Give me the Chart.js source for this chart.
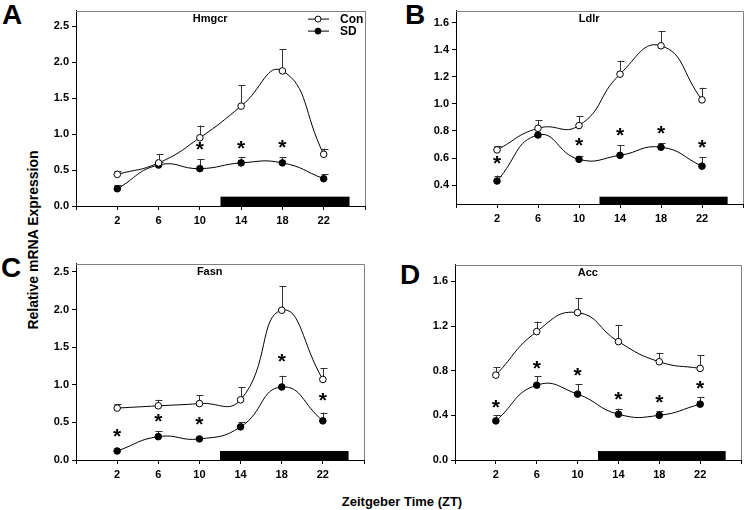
<!DOCTYPE html>
<html>
<head>
<meta charset="utf-8">
<script src="https://cdn.jsdelivr.net/npm/chart.js@4.4.0/dist/chart.umd.min.js"></script>
<style>
  html, body { margin: 0; padding: 0; background: #fff; }
  body { width: 747px; height: 510px; position: relative; overflow: hidden;
         font-family: Arial, "Liberation Sans", sans-serif; color: #000; }
  canvas { position: absolute; }
  .letter { position: absolute; font-weight: bold; font-size: 28px; line-height: 1; }
  .axis-label { position: absolute; font-weight: bold; white-space: nowrap; line-height: 1; }
</style>
</head>
<body>
<div class="letter" style="left:2px;top:1px">A</div>
<div class="letter" style="left:405px;top:1px">B</div>
<div class="letter" style="left:1px;top:254px">C</div>
<div class="letter" style="left:400px;top:261px">D</div>
<div class="axis-label" style="left:33px;top:240px;font-size:14px;transform:translate(-50%,-50%) rotate(-90deg)">Relative mRNA Expression</div>
<div class="axis-label" style="left:402px;top:501px;font-size:13px;transform:translate(-50%,-50%)">Zeitgeber Time (ZT)</div>

<canvas id="hmgcr"></canvas>
<canvas id="ldlr"></canvas>
<canvas id="fasn"></canvas>
<canvas id="acc"></canvas>

<script>
// sampling times and axis ticks
const zt = [2, 6, 10, 14, 18, 22];
const xTicks = [-2, 2, 6, 10, 14, 18, 22, 26];
const darkPhase = [12, 24.5];

// A - Hmgcr
const hmgcrCon    = [0.44, 0.60, 0.95, 1.39, 1.88, 0.72];
const hmgcrConSem = [0.05, 0.12, 0.17, 0.29, 0.30, 0.08];
const hmgcrSd     = [0.24, 0.57, 0.52, 0.60, 0.60, 0.38];
const hmgcrSdSem  = [0.05, 0.04, 0.13, 0.08, 0.08, 0.06];
const hmgcrStars  = [null, null, 0.86, 0.88, 0.89, null];
const hmgcrTicks  = [0, 0.5, 1.0, 1.5, 2.0, 2.5];

// B - Ldlr
const ldlrCon    = [0.66, 0.82, 0.84, 1.22, 1.43, 1.03];
const ldlrConSem = [0.03, 0.06, 0.07, 0.10, 0.11, 0.09];
const ldlrSd     = [0.43, 0.77, 0.59, 0.62, 0.68, 0.54];
const ldlrSdSem  = [0.04, 0.01, 0.025, 0.075, 0.03, 0.065];
const ldlrStars  = [0.60, null, 0.73, 0.81, 0.82, 0.72];
const ldlrTicks  = [0.4, 0.6, 0.8, 1.0, 1.2, 1.4, 1.6];

// C - Fasn
const fasnCon    = [0.69, 0.72, 0.75, 0.80, 1.99, 1.07];
const fasnConSem = [0.05, 0.08, 0.11, 0.17, 0.32, 0.15];
const fasnSd     = [0.12, 0.31, 0.28, 0.44, 0.97, 0.52];
const fasnSdSem  = [0.03, 0.07, 0.01, 0.06, 0.15, 0.11];
const fasnStars  = [0.38, 0.59, 0.54, null, 1.38, 0.86];
const fasnTicks  = [0, 0.5, 1.0, 1.5, 2.0, 2.5];

// D - Acc
const accCon    = [0.76, 1.15, 1.32, 1.06, 0.88, 0.82];
const accConSem = [0.07, 0.09, 0.13, 0.15, 0.08, 0.12];
const accSd     = [0.35, 0.67, 0.59, 0.41, 0.40, 0.50];
const accSdSem  = [0.05, 0.08, 0.09, 0.05, 0.04, 0.06];
const accStars  = [0.52, 0.87, 0.81, 0.59, 0.56, 0.69];
const accTicks  = [0, 0.4, 0.8, 1.2, 1.6];

const FONT = 'Arial, "Liberation Sans", sans-serif';

// panel layout: chart area box in page pixels [left, top, right, bottom]
const panels = [
  { id: 'hmgcr', title: 'Hmgcr', box: [76, 4, 367, 206], yMin: 0, yMax: 2.72, yTicks: hmgcrTicks, barTop: 0.13,
    con: hmgcrCon, conSem: hmgcrConSem, sd: hmgcrSd, sdSem: hmgcrSdSem, stars: hmgcrStars, legend: true },
  { id: 'ldlr', title: 'Ldlr', box: [456, 4, 745, 204], yMin: 0.26, yMax: 1.69, yTicks: ldlrTicks, barTop: 0.314,
    con: ldlrCon, conSem: ldlrConSem, sd: ldlrSd, sdSem: ldlrSdSem, stars: ldlrStars },
  { id: 'fasn', title: 'Fasn', box: [76, 257, 366, 460], yMin: 0, yMax: 2.61, yTicks: fasnTicks, barTop: 0.12,
    con: fasnCon, conSem: fasnConSem, sd: fasnSd, sdSem: fasnSdSem, stars: fasnStars },
  { id: 'acc', title: 'Acc', box: [455, 258, 743, 460], yMin: 0, yMax: 1.75, yTicks: accTicks, barTop: 0.08,
    con: accCon, conSem: accConSem, sd: accSd, sdSem: accSdSem, stars: accStars }
];

const Y_W = 40, X_H = 26, PAD = 3;

// dark phase bar, error bars, asterisks, title, legend, grey frame
const decor = {
  id: 'decor',
  beforeDatasetsDraw(chart, args, o) {
    const { ctx, chartArea: a, scales: { x, y } } = chart;
    ctx.save();
    ctx.fillStyle = '#000';
    const x0 = x.getPixelForValue(darkPhase[0]);
    const x1 = x.getPixelForValue(darkPhase[1]);
    const yb = y.getPixelForValue(o.barTop);
    ctx.fillRect(x0, yb, x1 - x0, a.bottom - yb);

    ctx.strokeStyle = '#333';
    ctx.lineWidth = 1;
    chart.data.datasets.forEach(ds => {
      ds.data.forEach((p, i) => {
        const px = Math.round(x.getPixelForValue(p.x)) + 0.5;
        const py = y.getPixelForValue(p.y);
        const pt = y.getPixelForValue(p.y + ds.sem[i]);
        ctx.beginPath();
        ctx.moveTo(px, py);
        ctx.lineTo(px, pt);
        ctx.moveTo(px - 3, Math.round(pt) + 0.5);
        ctx.lineTo(px + 4, Math.round(pt) + 0.5);
        ctx.stroke();
      });
    });
    ctx.restore();
  },
  afterDatasetsDraw(chart, args, o) {
    const { ctx, chartArea: a, scales: { x, y } } = chart;
    ctx.save();
    // significance asterisks
    ctx.fillStyle = '#000';
    ctx.textAlign = 'center';
    ctx.textBaseline = 'alphabetic';
    ctx.font = 'bold 21px ' + FONT;
    o.stars.forEach((v, i) => {
      if (v === null) return;
      ctx.fillText('*', x.getPixelForValue(zt[i]), y.getPixelForValue(v) + 12);
    });
    // gene title
    ctx.font = 'bold 11px ' + FONT;
    ctx.textBaseline = 'middle';
    ctx.fillText(o.title, x.getPixelForValue(11), a.top + 8);
    // legend
    if (o.legend) {
      const rows = [['Con', '#fff', a.top + 8], ['SD', '#000', a.top + 20]];
      rows.forEach(([label, fill, ly]) => {
        ctx.strokeStyle = '#000';
        ctx.lineWidth = 1;
        ctx.beginPath();
        ctx.moveTo(a.right - 57, ly + 0.5);
        ctx.lineTo(a.right - 36, ly + 0.5);
        ctx.stroke();
        ctx.beginPath();
        ctx.arc(a.right - 47, ly + 0.5, 3, 0, Math.PI * 2);
        ctx.fillStyle = fill;
        ctx.fill();
        ctx.stroke();
        ctx.fillStyle = '#000';
        ctx.textAlign = 'left';
        ctx.font = 'bold 12px ' + FONT;
        ctx.fillText(label, a.right - 25, ly + 1);
      });
    }
    // grey top and right frame
    ctx.strokeStyle = '#808080';
    ctx.lineWidth = 1;
    ctx.beginPath();
    ctx.moveTo(a.left, Math.round(a.top) + 0.5);
    ctx.lineTo(Math.round(a.right) + 0.5, Math.round(a.top) + 0.5);
    ctx.lineTo(Math.round(a.right) + 0.5, a.bottom);
    ctx.stroke();
    ctx.restore();
  }
};

function seriesStyle(label, values, sem, fill) {
  return {
    label: label,
    data: zt.map((t, i) => ({ x: t, y: values[i] })),
    sem: sem,
    borderColor: '#000',
    borderWidth: 1,
    tension: 0.5,
    pointRadius: 3.3,
    pointBorderWidth: 1,
    pointBackgroundColor: fill,
    pointBorderColor: '#000'
  };
}

panels.forEach(p => {
  const [L, T, R, B] = p.box;
  const canvas = document.getElementById(p.id);
  canvas.width = R - L + Y_W + PAD;
  canvas.height = B - T + PAD + X_H;
  canvas.style.left = (L - Y_W) + 'px';
  canvas.style.top = (T - PAD) + 'px';

  new Chart(canvas.getContext('2d'), {
    type: 'line',
    data: {
      datasets: [
        seriesStyle('Con', p.con, p.conSem, '#fff'),
        seriesStyle('SD', p.sd, p.sdSem, '#000')
      ]
    },
    options: {
      responsive: false,
      animation: false,
      events: [],
      layout: { padding: { left: 0, top: PAD, right: PAD, bottom: 0 } },
      scales: {
        x: {
          type: 'linear', min: -2, max: 26,
          afterBuildTicks: s => { s.ticks = xTicks.map(v => ({ value: v })); },
          afterFit: s => { s.height = X_H; },
          ticks: {
            autoSkip: false, maxRotation: 0, padding: 4, color: '#000',
            font: { family: FONT, size: 11, weight: 'bold' },
            callback: v => zt.includes(v) ? String(v) : ''
          },
          grid: { drawOnChartArea: false, drawTicks: true, tickLength: 4, color: '#000' },
          border: { color: '#000', width: 1 }
        },
        y: {
          min: p.yMin, max: p.yMax,
          afterBuildTicks: s => { s.ticks = p.yTicks.map(v => ({ value: v })); },
          afterFit: s => { s.width = Y_W; },
          ticks: {
            padding: 3, color: '#000',
            font: { family: FONT, size: 11, weight: 'bold' },
            callback: v => Number(v).toFixed(1)
          },
          grid: { drawOnChartArea: false, drawTicks: true, tickLength: 4, color: '#000' },
          border: { color: '#000', width: 1 }
        }
      },
      plugins: {
        legend: { display: false },
        tooltip: { enabled: false },
        decor: { title: p.title, barTop: p.barTop, stars: p.stars, legend: !!p.legend }
      }
    },
    plugins: [decor]
  });
});
</script>
</body>
</html>
